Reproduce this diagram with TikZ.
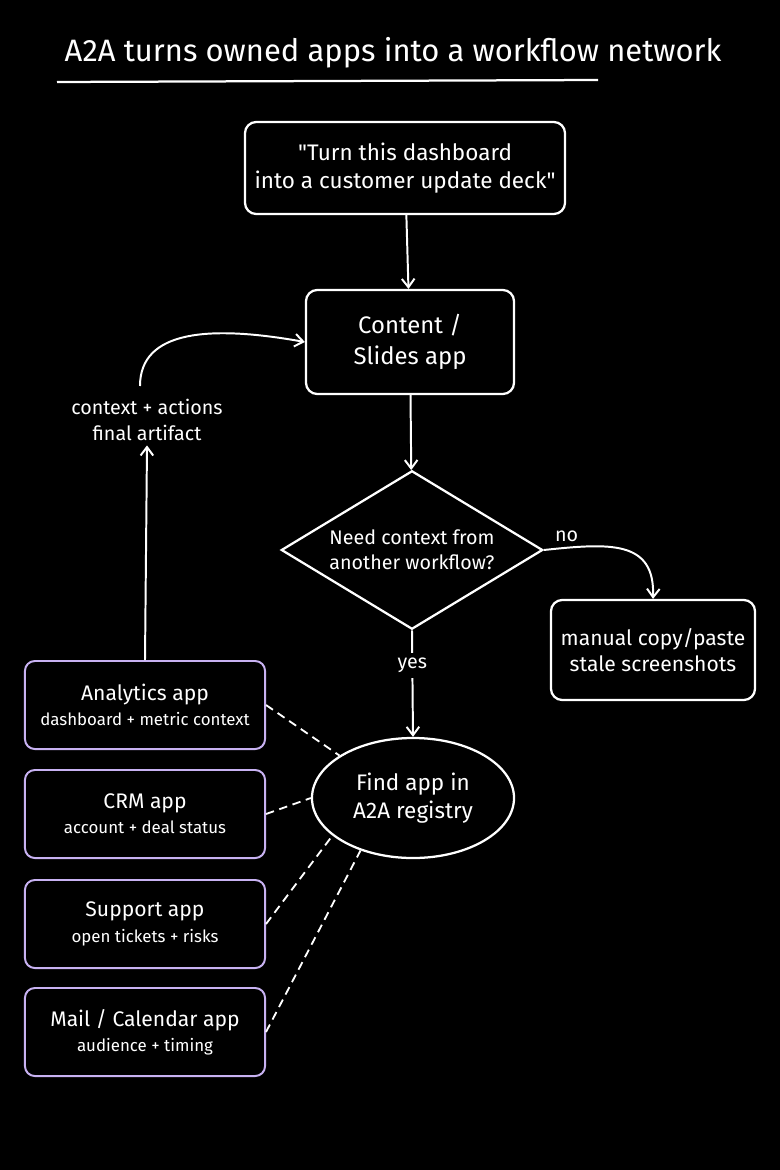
\documentclass[tikz,border=0pt]{standalone}
\usepackage{fontspec}
\setmainfont{Fira Sans}
\newfontfamily\plainq{Fira Sans}
\usetikzlibrary{shapes.geometric,arrows.meta}
\definecolor{appline}{HTML}{C8B2F2}
\tikzset{
  box/.style={draw=white,line width=1.6pt,rounded corners=8pt,align=center,text=white,font=\fontsize{16}{20}\selectfont},
  appbox/.style={draw=appline,line width=1.4pt,rounded corners=7pt,align=center,text=white,minimum width=6.0cm,minimum height=2.2cm,font=\fontsize{15}{18}\selectfont},
  flow/.style={draw=white,line width=1.4pt,-{Straight Barb[length=6pt,width=9pt]}},
  link/.style={draw=white,line width=1.3pt,dash pattern=on 6pt off 4pt},
  lbl/.style={text=white,align=center,font=\fontsize{14}{18}\selectfont}
}
\begin{document}
\begin{tikzpicture}[x=0.025cm,y=-0.025cm]
  \fill[black] (0,0) rectangle (780,1170);
  \useasboundingbox (0,0) rectangle (780,1170);
  % title
  \node (title) [text=white,font=\fontsize{22}{26}\selectfont] at (393,53) {A2A turns owned apps into a workflow network};
  \draw[white,line width=1.6pt] (57,82) -- (598,80);
  % main flow
  \node (ask) [box,minimum width=8.0cm,minimum height=2.3cm] at (405,168) {{\plainq"}Turn this dashboard\\into a customer update deck{\plainq"}};
  \node (slides) [box,minimum width=5.2cm,minimum height=2.6cm,font=\fontsize{17}{22}\selectfont] at (410,342) {Content /\\Slides app};
  \node (need) [diamond,draw=white,line width=1.6pt,aspect=1.65,inner sep=4pt,align=center,text=white,font=\fontsize{14}{18}\selectfont] at (412,550) {Need context from\\another workflow?};
  \node (manual) [box,minimum width=5.1cm,minimum height=2.5cm,font=\fontsize{15}{19}\selectfont] at (653,650) {manual copy/paste\\stale screenshots};
  \node (find) [ellipse,draw=white,line width=1.6pt,minimum width=5.05cm,minimum height=3.0cm,align=center,text=white,font=\fontsize{16}{20}\selectfont] at (413,798) {Find app in\\A2A registry};
  % apps
  \node (analytics) [appbox] at (145,705) {Analytics app\\{\fontsize{12}{16}\selectfont dashboard + metric context}};
  \node (crm) [appbox] at (145,814) {CRM app\\{\fontsize{12}{16}\selectfont account + deal status}};
  \node (support) [appbox] at (145,924) {Support app\\{\fontsize{12}{16}\selectfont open tickets + risks}};
  \node (mail) [appbox] at (145,1032) {Mail / Calendar app\\{\fontsize{12}{16}\selectfont audience + timing}};
  \node (ctx) [lbl] at (147,420) {context + actions\\final artifact};
  \coordinate (loop) at (140,386);
  % connectors
  \draw[flow] (ask) -- (slides);
  \draw[flow] (slides) -- (need);
  \draw[flow] (need.east) .. controls (610,543) and (655,540) .. (manual.north) node[lbl,pos=0.12,above] {no};
  \draw[flow] (need.south) -- node[lbl,fill=black,pos=0.33] {yes} (find.north);
  \draw[link] (analytics.east) -- (find.150);
  \draw[link] (crm.east) -- (find.180);
  \draw[link] (support.east) -- (find.205);
  \draw[link] (mail.east) -- (find.225);
  \draw[flow] (analytics.north) -- (ctx.south);
  \draw[flow] (loop) .. controls (140,330) and (210,325) .. (slides.west);
\end{tikzpicture}
\end{document}
